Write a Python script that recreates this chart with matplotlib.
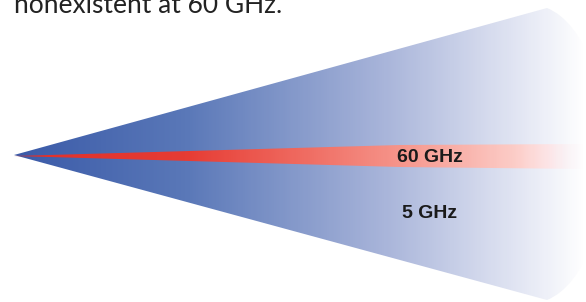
import numpy as np
import matplotlib.pyplot as plt
from matplotlib.path import Path
from matplotlib.patches import PathPatch
from matplotlib.colors import LinearSegmentedColormap

# text
caption = "nonexistent at 60 GHz."
labels = ["60 GHz", "5 GHz"]

# colour stops along the beams (position 0..1, colour)
blue_stops = [(0.0, "#3a5aa8"), (0.3, "#5a78b8"), (0.65, "#a9b5da"), (0.9, "#e6e9f5"), (1.0, "#ffffff")]
red_stops = [(0.0, "#e0302a"), (0.3, "#e63c34"), (0.5, "#ef6a60"), (0.68, "#f6968c"),
             (0.88, "#fccdc8"), (0.94, "#fde6e8"), (1.0, (1, 0.96, 0.97, 0.0))]

W, H = 586, 302
fig = plt.figure(figsize=(W / 100, H / 100), dpi=100)
ax = fig.add_axes([0, 0, 1, 1])
ax.set_xlim(0, W)
ax.set_ylim(H, 0)
ax.axis("off")

apex = (14, 155)

# wide 5 GHz cone
blue_path = Path(
    [apex, (547, 8), (625, 40), (625, 268), (547, 300), apex],
    [Path.MOVETO, Path.LINETO, Path.CURVE4, Path.CURVE4, Path.CURVE4, Path.CLOSEPOLY],
)
blue_patch = PathPatch(blue_path, facecolor="none", edgecolor="none")
ax.add_patch(blue_patch)
bcmap = LinearSegmentedColormap.from_list("b", blue_stops)
grad = np.linspace(0, 1, 300)[None, :]
im = ax.imshow(grad, cmap=bcmap, extent=(apex[0], W, H, 0), aspect="auto", interpolation="bilinear")
im.set_clip_path(blue_patch)

# narrow 60 GHz beam
red_path = Path(
    [(apex[0], 156), (400, 145), (586, 144), (586, 169), (400, 167), (apex[0], 156)],
    [Path.MOVETO, Path.LINETO, Path.LINETO, Path.LINETO, Path.LINETO, Path.CLOSEPOLY],
)
red_patch = PathPatch(red_path, facecolor="none", edgecolor="none")
ax.add_patch(red_patch)
rcmap = LinearSegmentedColormap.from_list("r", red_stops)
im2 = ax.imshow(grad, cmap=rcmap, extent=(apex[0], W, H, 0), aspect="auto", interpolation="bilinear")
im2.set_clip_path(red_patch)

ax.text(430, 158, labels[0], ha="center", va="center", fontsize=14, fontweight="bold",
        family="Liberation Sans", color="#1a1a1a")
ax.text(430, 214, labels[1], ha="center", va="center", fontsize=14, fontweight="bold",
        family="Liberation Sans", color="#1a1a1a")

ax.text(14, 13, caption, ha="left", va="baseline", fontsize=19, family="Lato", color="#222222")

fig.savefig("out.png", dpi=100)
